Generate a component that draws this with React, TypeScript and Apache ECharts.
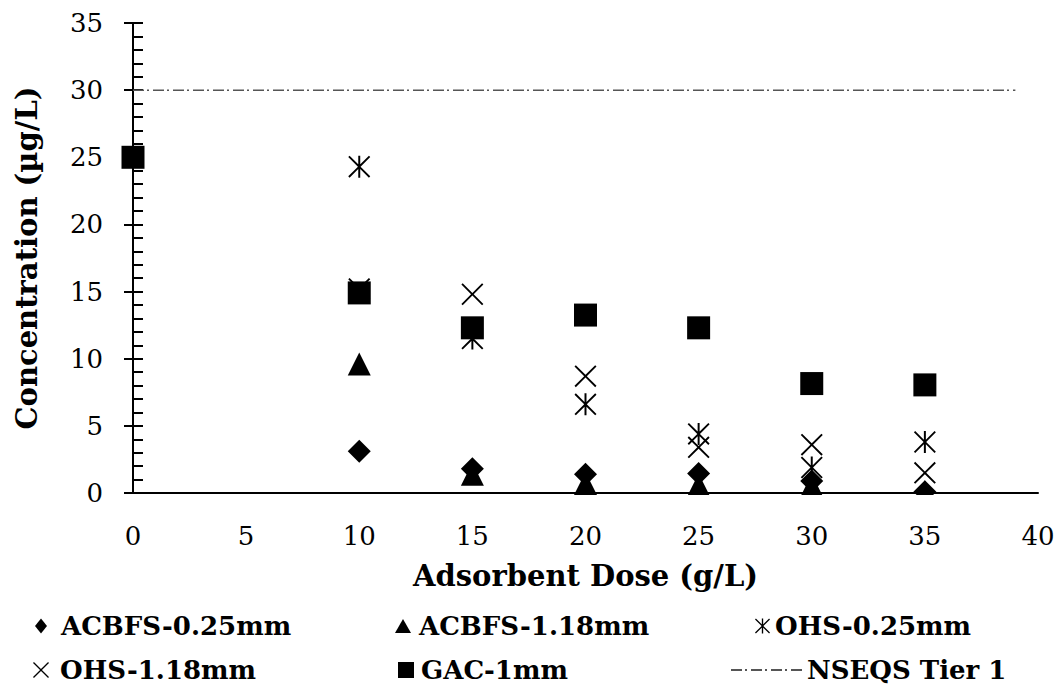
import React, { useEffect, useRef } from "react";
import * as echarts from "echarts";

// ---- data ----
const doses = [10, 15, 20, 25, 30, 35];
const acbfs025 = [3.1, 1.8, 1.4, 1.45, 0.9, 0.1];
const acbfs118 = [9.6, 1.4, 0.7, 0.6, 0.55, 0.1];
const ohs025 = [24.3, 11.5, 6.6, 4.4, 1.9, 3.8];
const ohs118 = [15.2, 14.8, 8.7, 3.4, 3.6, 1.5];
const gacDoses = [0, 10, 15, 20, 25, 30, 35];
const gac1 = [25, 14.9, 12.3, 13.25, 12.3, 8.15, 8.05];
const tierDoses = [0, 39];
const tierValues = [30, 30];
const xTicks = { min: 0, max: 40, interval: 5 };
const yTicks = { min: 0, max: 35, interval: 5 };

const names = ["ACBFS-0.25mm", "ACBFS-1.18mm", "OHS-0.25mm", "OHS-1.18mm", "GAC-1mm", "NSEQS Tier 1"];

const FONT = "DejaVu Serif";
const X_PATH = "path://M0,6L6,0L50,44L94,0L100,6L56,50L100,94L94,100L50,56L6,100L0,94L44,50Z";
const STAR_PATH = X_PATH + "M45.5,0L54.5,0L54.5,100L45.5,100Z";

const pair = (xs: number[], ys: number[]) => xs.map((x, i) => [x, ys[i]]);

function legend(name: string, left: number, top: number, w: number, h: number, pad: number) {
  return {
    data: [name],
    left,
    top,
    padding: 0,
    itemWidth: w,
    itemHeight: h,
    itemGap: 0,
    selectedMode: false,
    textStyle: { fontFamily: FONT, fontWeight: "bold", fontSize: 26, color: "#000", padding: [0, 0, 0, pad] },
  };
}

export default function App() {
  const ref = useRef<HTMLDivElement>(null);
  useEffect(() => {
    if (!ref.current) return;
    const chart = echarts.init(ref.current, null, { renderer: "svg" });
    const scatterBase = { type: "scatter", xAxisIndex: 0, yAxisIndex: 0, itemStyle: { color: "#000", opacity: 1 } };
    chart.setOption({
      animation: false,
      backgroundColor: "#fff",
      grid: { left: 133, right: 23, top: 23, bottom: 193, outerBoundsMode: "none", containLabel: false },
      xAxis: {
        type: "value",
        ...xTicks,
        name: "Adsorbent Dose (g/L)",
        nameLocation: "middle",
        nameGap: 68,
        nameTextStyle: { fontFamily: FONT, fontWeight: "bold", fontSize: 29, color: "#000" },
        axisLine: { show: true, lineStyle: { color: "#000", width: 2 } },
        axisTick: { show: false },
        splitLine: { show: false },
        axisLabel: { fontFamily: FONT, fontSize: 26, color: "#000", margin: 30 },
      },
      yAxis: [
        {
          type: "value",
          ...yTicks,
          name: "Concentration (µg/L)",
          nameLocation: "middle",
          nameGap: 92,
          nameTextStyle: { fontFamily: FONT, fontWeight: "bold", fontSize: 29, color: "#000" },
          axisLine: { show: true, lineStyle: { color: "#000", width: 2 } },
          axisTick: { show: true, inside: true, length: 10, lineStyle: { color: "#000", width: 2 } },
          minorTick: { show: true, splitNumber: 5, length: 10, lineStyle: { color: "#000", width: 2 } },
          splitLine: { show: false },
          axisLabel: { fontFamily: FONT, fontSize: 26, color: "#000", margin: 30 },
        },
        {
          type: "value",
          ...yTicks,
          position: "left",
          axisLine: { show: false },
          axisTick: { show: true, inside: false, length: 9, lineStyle: { color: "#000", width: 2 } },
          axisLabel: { show: false },
          splitLine: { show: false },
        },
      ],
      legend: [
        legend(names[0], 35, 613, 12, 15, 9),
        legend(names[1], 395, 613, 16, 14, 3),
        legend(names[2], 755, 613, 15, 15, 0),
        legend(names[3], 33, 657, 16, 16, 6),
        legend(names[4], 398, 657, 16, 16, 2),
        legend(names[5], 730, 657, 71, 14, 0),
      ],
      series: [
        { ...scatterBase, name: names[0], symbol: "diamond", symbolSize: 23, data: pair(doses, acbfs025) },
        { ...scatterBase, name: names[1], symbol: "triangle", symbolSize: 23, data: pair(doses, acbfs118) },
        { ...scatterBase, name: names[2], symbol: STAR_PATH, symbolSize: 22, data: pair(doses, ohs025) },
        { ...scatterBase, name: names[3], symbol: X_PATH, symbolSize: 22, data: pair(doses, ohs118) },
        { ...scatterBase, name: names[4], symbol: "rect", symbolSize: 23, data: pair(gacDoses, gac1) },
        {
          type: "line",
          name: names[5],
          xAxisIndex: 0,
          yAxisIndex: 0,
          symbol: "none",
          showSymbol: false,
          lineStyle: { color: "#555", width: 1.5, type: [11, 3, 2, 4] },
          itemStyle: { color: "rgba(0,0,0,0)", borderWidth: 0 },
          data: pair(tierDoses, tierValues),
          z: 1,
        },
      ],
      graphic: [
        { type: "rect", z: 100, shape: { x: 135, y: 495, width: 910, height: 18 }, style: { fill: "#fff" } },
      ],
    });
    return () => chart.dispose();
  }, []);
  return <div ref={ref} style={{ position: "fixed", left: 0, top: 0, width: 1061, height: 686 }} />;
}
